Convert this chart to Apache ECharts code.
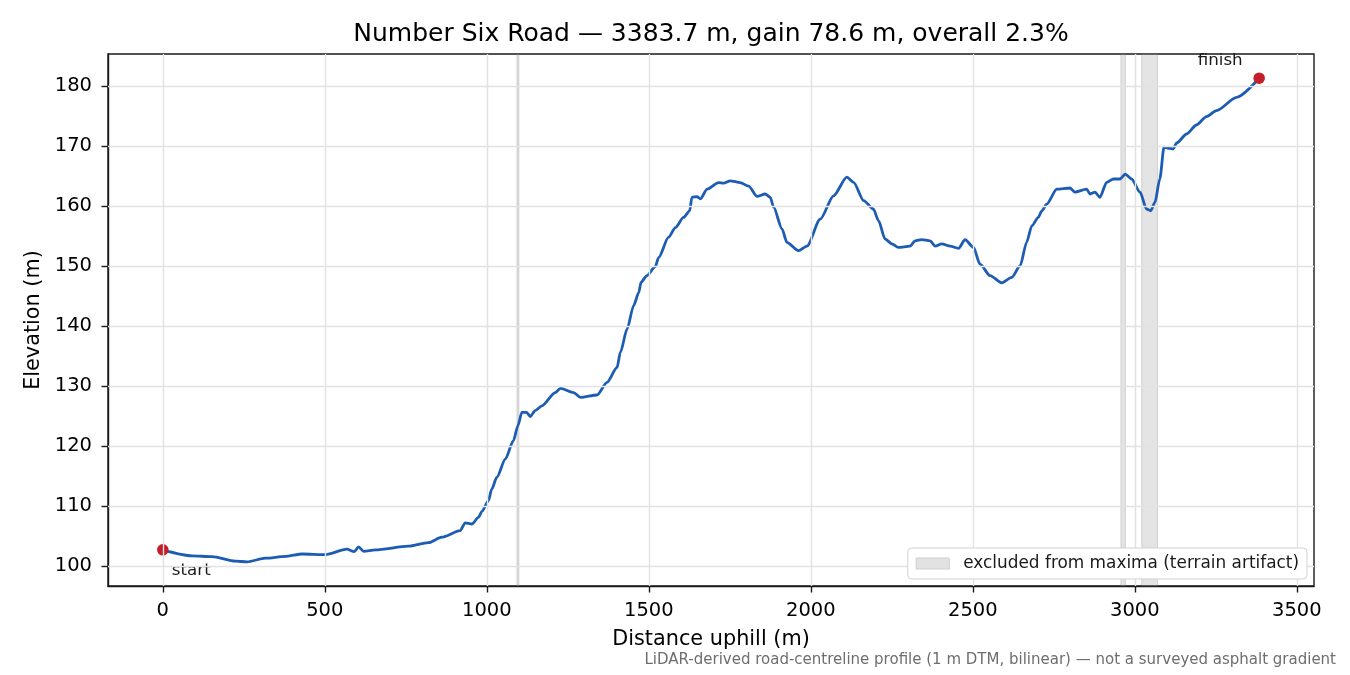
<!DOCTYPE html>
<html>
<head>
<meta charset="utf-8">
<script src="https://cdn.jsdelivr.net/npm/echarts@6/dist/echarts.min.js"></script>
<style>
html,body{margin:0;padding:0;background:#fff;}
#chart{width:1350px;height:675px;}
</style>
</head>
<body>
<div id="chart"></div>
<script>
// Distance uphill (m)
const distance = [
  0, 90, 152, 224, 260, 317, 378, 430, 502, 568,
  591, 604, 620, 656, 758, 820, 861, 918, 933, 954,
  974, 985, 1005, 1015, 1031, 1057, 1082, 1096, 1108, 1123,
  1134, 1149, 1170, 1211, 1227, 1268, 1289, 1340, 1371, 1402,
  1412, 1433, 1453, 1469, 1476, 1494, 1520, 1530, 1561, 1582,
  1607, 1626, 1633, 1649, 1659, 1680, 1715, 1731, 1751, 1782,
  1808, 1834, 1859, 1875, 1885, 1911, 1926, 1962, 1988, 2029,
  2070, 2111, 2132, 2163, 2193, 2209, 2229, 2250, 2270, 2306,
  2322, 2342, 2368, 2384, 2404, 2430, 2456, 2476, 2502, 2522,
  2553, 2589, 2620, 2646, 2666, 2682, 2702, 2713, 2728, 2759,
  2800, 2815, 2851, 2862, 2877, 2892, 2913, 2934, 2954, 2970,
  2990, 3016, 3036, 3049, 3062, 3077, 3090, 3108, 3118, 3129,
  3160, 3190, 3221, 3252, 3314, 3383.7
];
// Elevation (m)
const elevation = [
  102.7, 101.7, 101.55, 100.8, 100.7, 101.3, 101.6, 102.0, 101.9, 102.8,
  102.4, 103.2, 102.45, 102.7, 103.3, 103.9, 104.8, 105.9, 107.2, 107.0,
  108.1, 109.1, 110.9, 112.8, 114.8, 117.8, 120.9, 123.4, 125.6, 125.6,
  124.9, 125.9, 126.7, 128.9, 129.6, 128.9, 128.1, 128.5, 130.6, 133.1,
  135.6, 139.5, 143.4, 145.6, 147.3, 148.4, 149.9, 151.4, 154.8, 156.4,
  158.1, 159.2, 161.45, 161.55, 161.2, 162.8, 163.9, 163.8, 164.2, 163.9,
  163.3, 161.6, 162.0, 161.45, 159.8, 156.2, 153.95, 152.55, 153.3, 157.8,
  161.7, 164.8, 163.95, 160.9, 159.5, 157.55, 154.5, 153.7, 153.1, 153.3,
  154.2, 154.4, 154.2, 153.3, 153.7, 153.3, 152.95, 154.4, 153.1, 150.3,
  148.4, 147.2, 148.1, 150.05, 153.95, 156.7, 158.1, 159.2, 160.3, 162.8,
  163.0, 162.3, 162.8, 162.0, 162.3, 161.45, 163.95, 164.5, 164.5, 165.3,
  164.5, 162.3, 159.5, 159.2, 160.6, 164.5, 169.8, 169.6, 169.5, 170.5,
  172.0, 173.5, 174.9, 175.9, 178.1, 181.3
];
// Excluded (terrain artifact) ranges, metres
const excludedStart = [1093, 2957, 3021];
const excludedEnd   = [1099, 2971, 3070];
// Tick values
const xTicks = [0, 500, 1000, 1500, 2000, 2500, 3000, 3500];
const yTicks = [100, 110, 120, 130, 140, 150, 160, 170, 180];
// Endpoints
const endNames = ['start', 'finish'];

const titleText = 'Number Six Road \u2014 3383.7 m, gain 78.6 m, overall 2.3%';
const footerText = 'LiDAR-derived road-centreline profile (1 m DTM, bilinear) \u2014 not a surveyed asphalt gradient';
const legendName = 'excluded from maxima (terrain artifact)';

const FONT = '"DejaVu Sans", "Liberation Sans", sans-serif';
const profile = distance.map((d, i) => [d, elevation[i]]);
const last = profile.length - 1;

const chart = echarts.init(document.getElementById('chart'), null, {renderer: 'canvas'});

const gridColor = '#e2e2e2';
const TICK = 19.5;
const option = {
  animation: false,
  backgroundColor: '#ffffff',
  textStyle: {fontFamily: FONT},
  grid: {
    left: 108, right: 36, top: 54, bottom: 89,
    show: true, borderColor: '#1a1a1a', borderWidth: 1.4, backgroundColor: 'transparent'
  },
  graphic: [
    {type: 'text', z: 100, style: {text: titleText, x: 711, y: 34, textAlign: 'center', textVerticalAlign: 'middle',
      font: '25px ' + FONT, fill: '#000'}},
    {type: 'text', z: 100, style: {text: footerText, x: 1336, y: 660, textAlign: 'right', textVerticalAlign: 'middle',
      font: '15px ' + FONT, fill: '#6e6e6e'}}
  ],
  legend: {
    show: true,
    z: 20,
    right: 43, bottom: 96,
    orient: 'horizontal',
    padding: [7, 8, 7, 8],
    itemWidth: 33, itemHeight: 11,
    backgroundColor: '#ffffff',
    borderColor: '#d2d2d2', borderWidth: 1, borderRadius: 4,
    textStyle: {fontSize: 16.9, color: '#1a1a1a', fontFamily: FONT, padding: [0, 0, 0, 9]},
    data: [{name: legendName, icon: 'rect',
      itemStyle: {color: '#e2e2e2', borderColor: '#cdcdcd', borderWidth: 1}}]
  },
  xAxis: {
    type: 'value',
    min: -169.2, max: 3552.9,
    name: 'Distance uphill (m)',
    nameLocation: 'middle', nameGap: 43,
    nameTextStyle: {fontSize: 20.8, color: '#000', fontFamily: FONT},
    axisLine: {show: true, onZero: false, lineStyle: {color: '#1a1a1a', width: 1.4}},
    axisTick: {show: true, length: 6.5, lineStyle: {color: '#1a1a1a', width: 1.4}, customValues: xTicks},
    axisLabel: {show: true, fontSize: TICK, color: '#000', margin: 15, fontFamily: FONT, customValues: xTicks,
      formatter: v => String(v)},
    splitLine: {show: false}
  },
  yAxis: {
    type: 'value',
    min: 96.67, max: 185.33,
    name: 'Elevation (m)',
    nameLocation: 'middle', nameGap: 61,
    nameTextStyle: {fontSize: 20.8, color: '#000', fontFamily: FONT},
    axisLine: {show: true, onZero: false, lineStyle: {color: '#1a1a1a', width: 1.4}},
    axisTick: {show: true, length: 6.5, lineStyle: {color: '#1a1a1a', width: 1.4}, customValues: yTicks},
    axisLabel: {show: true, fontSize: TICK, color: '#000', margin: 16, fontFamily: FONT, customValues: yTicks,
      formatter: v => String(v)},
    splitLine: {show: false}
  },
  series: [
    {
      name: legendName,
      type: 'line',
      data: [],
      z: 1,
      silent: true,
      itemStyle: {color: '#e2e2e2', borderColor: '#cdcdcd'},
      markLine: {
        silent: true, symbol: 'none', label: {show: false},
        lineStyle: {color: gridColor, width: 1.4, type: 'solid'},
        data: xTicks.map(v => ({xAxis: v})).concat(yTicks.map(v => ({yAxis: v})))
      },
      markArea: {
        silent: true,
        itemStyle: {color: 'rgba(150,150,150,0.26)', borderColor: 'rgba(120,120,120,0.22)', borderWidth: 1.2},
        data: excludedStart.map((s, i) => [{xAxis: s}, {xAxis: excludedEnd[i]}])
      }
    },
    {
      name: 'profile',
      type: 'line',
      data: profile,
      z: 3,
      showSymbol: false,
      symbol: 'none',
      smooth: 0.25,
      smoothMonotone: 'x',
      lineStyle: {color: '#1d5cb3', width: 2.8},
      silent: true
    },
    {
      name: 'endpoints',
      type: 'scatter',
      z: 4,
      symbolSize: 11.5,
      itemStyle: {color: '#c41e2a', opacity: 1},
      silent: true,
      data: [
        {value: profile[0], label: {show: true, formatter: endNames[0], position: 'inside', align: 'left',
          offset: [9, 21], fontSize: 16.7, color: '#1a1a1a', opacity: 1, fontFamily: FONT}},
        {value: profile[last], label: {show: true, formatter: endNames[1], position: 'inside', align: 'center',
          offset: [-39, -18], fontSize: 16.7, color: '#1a1a1a', opacity: 1, fontFamily: FONT}}
      ]
    }
  ]
};
chart.setOption(option);
</script>
</body>
</html>
